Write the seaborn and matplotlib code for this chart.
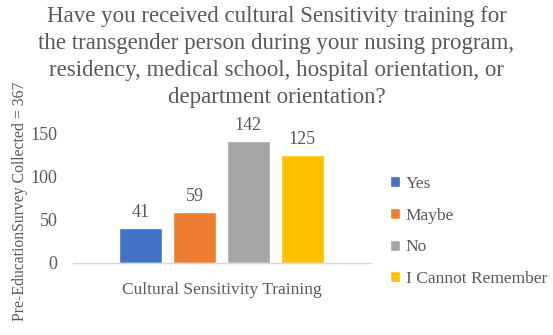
import matplotlib
matplotlib.use("Agg")
import matplotlib.pyplot as plt
import seaborn as sns
import pandas as pd

# Survey responses
responses = ["Yes", "Maybe", "No", "I Cannot Remember"]
counts = [41, 59, 142, 125]
colors = ["#4472C4", "#ED7D31", "#A5A5A5", "#FFC000"]
category = "Cultural Sensitivity Training"

sns.set_style("white")
plt.rcParams["font.family"] = "serif"
plt.rcParams["font.serif"] = ["Liberation Serif", "DejaVu Serif"]
FONT = "Liberation Serif"
text_color = "#595959"

df = pd.DataFrame({"category": [category] * len(responses),
                   "response": responses,
                   "count": counts})

fig = plt.figure(figsize=(5.53, 3.35), dpi=100)
ax = fig.add_axes([0.132, 0.215, 0.537, 0.411])

sns.barplot(data=df, x="category", y="count", hue="response",
            hue_order=responses, palette=colors, width=0.727, gap=0.2,
            saturation=1, ax=ax, legend=True)

for container in ax.containers:
    ax.bar_label(container, padding=5, fontsize=13, color=text_color,
                 fontfamily=FONT)

ax.set_ylim(0, 160)
ax.set_xlim(-0.5, 0.5)
ax.set_yticks([0, 50, 100, 150])
ax.tick_params(axis="y", length=0, pad=11, labelsize=13, labelcolor=text_color)
for lbl in ax.get_yticklabels():
    lbl.set_fontfamily(FONT)
ax.set_xticks([])
ax.set_xlabel("")
ax.set_ylabel("")
for side in ["top", "right", "left"]:
    ax.spines[side].set_visible(False)
ax.spines["bottom"].set_color("#D9D9D9")
ax.spines["bottom"].set_linewidth(1)

fig.text(222 / 553, 1 - 290 / 335, category, ha="center", va="center",
         fontsize=12.5, color=text_color, fontfamily=FONT)
fig.text(20 / 553, 1 - 201 / 335, "Pre-EducationSurvey Collected = 367",
         rotation=90, ha="center", va="center", fontsize=11.3,
         color=text_color, fontfamily=FONT)

fig.text(0.50, 1 - 6 / 335,
         "Have you received cultural Sensitivity training for\n"
         "the transgender person during your nusing program,\n"
         "residency, medical school, hospital orientation, or\n"
         "department orientation?",
         ha="center", va="top", fontsize=16.5, color=text_color,
         linespacing=1.38, fontfamily=FONT)

leg = ax.legend(loc="upper left", bbox_to_anchor=(383 / 553, 1 - 169 / 335),
                bbox_transform=fig.transFigure, frameon=False,
                prop={"family": FONT, "size": 12.5},
                handlelength=0.6, handleheight=0.6, handletextpad=0.3,
                labelspacing=0.9, borderaxespad=0)
for t in leg.get_texts():
    t.set_color(text_color)

fig.savefig("out.png", dpi=100)
